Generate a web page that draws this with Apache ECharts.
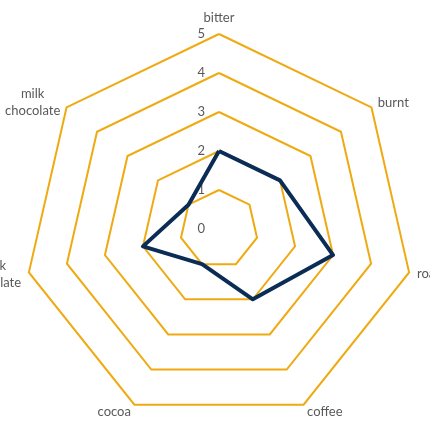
<!DOCTYPE html>
<html>
<head>
<meta charset="utf-8">
<script src="https://cdn.jsdelivr.net/npm/echarts@6/dist/echarts.min.js"></script>
<style>
html,body{margin:0;padding:0;background:#fff;}
#c{width:430px;height:430px;}
</style>
</head>
<body>
<div id="c"></div>
<script>
// Data (clockwise from top)
const categories = ['bitter', 'burnt', 'roasted', 'coffee', 'cocoa', 'dark chocolate', 'milk chocolate'];
const values = [2, 2, 3, 2, 1, 2, 1];
const axisMin = 0;
const axisMax = 5;

// ECharts radar runs counter-clockwise: reorder so it reads clockwise
const order = [0].concat(categories.map((_, i) => i).slice(1).reverse());

const indicator = order.map((i, k) => {
  const o = { name: categories[i], min: axisMin, max: axisMax };
  if (k === 0) o.axisLabel = { show: true };
  return o;
});
const seriesData = order.map(i => values[i]);

const chart = echarts.init(document.getElementById('c'));
chart.setOption({
  animation: false,
  radar: {
    center: [219, 229],
    radius: 195,
    startAngle: 90,
    splitNumber: 5,
    shape: 'polygon',
    indicator: indicator,
    nameGap: 8,
    axisName: {
      color: '#595959',
      fontFamily: 'Lato',
      fontSize: 13,
      formatter: function (name) {
        return name.split(' ').map(w => '{c|' + w + '}').join('\n');
      },
      rich: { c: { align: 'center', color: '#595959', fontFamily: 'Lato', fontSize: 13, lineHeight: 17 } }
    },
    axisLine: { show: false },
    axisTick: { show: false },
    axisLabel: {
      show: false,
      color: '#595959',
      fontFamily: 'Lato',
      fontSize: 13,
      margin: 14
    },
    splitLine: { lineStyle: { color: '#EFAA12', width: 2 } },
    splitArea: { show: false }
  },
  series: [{
    type: 'radar',
    symbol: 'none',
    lineStyle: { color: '#0B2D55', width: 4 },
    data: [{ value: seriesData }]
  }]
});
</script>
</body>
</html>
